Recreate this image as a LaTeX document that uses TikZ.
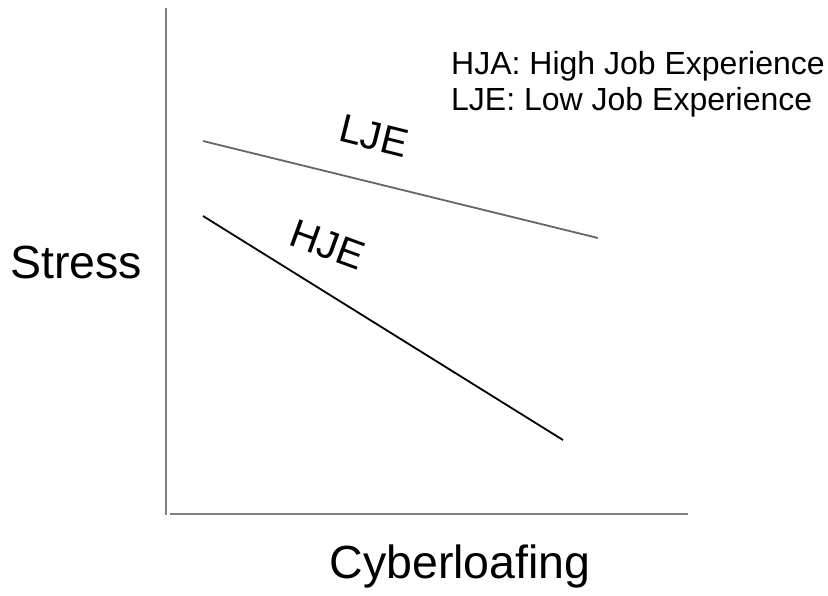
\documentclass[tikz,border=0pt]{standalone}
\usepackage{fontspec}
\setmainfont{Liberation Sans}
\begin{document}
\begin{tikzpicture}[x=1pt,y=-1pt,
  axis/.style={draw=black!50, line width=2pt},
  trend/.style={line width=1.8pt},
  lbl/.style={inner sep=0pt, font=\fontsize{40}{40}\selectfont},
  axlbl/.style={inner sep=0pt, font=\fontsize{46.5}{46.5}\selectfont},
  legend/.style={inner sep=0pt, anchor=west, font=\fontsize{32}{32}\selectfont}]
  \useasboundingbox (0,0) rectangle (828,595);
  % axes
  \coordinate (ytop) at (166,8);
  \coordinate (origin) at (166,515);
  \coordinate (xstart) at (170,514);
  \coordinate (xend) at (688,514);
  \draw[axis] (ytop) -- (origin);
  \draw[axis] (xstart) -- (xend);
  % trend lines
  \coordinate (lje1) at (203,141);
  \coordinate (lje2) at (598,238);
  \coordinate (hje1) at (203,216);
  \coordinate (hje2) at (563,440);
  \draw[trend, draw=black!60] (lje1) -- (lje2);
  \draw[trend, draw=black] (hje1) -- (hje2);
  % line labels
  \node[lbl, rotate=-14] (ljel) at (374,136) {LJE};
  \node[lbl, rotate=-20] (hjel) at (328,245) {HJE};
  % axis labels
  \node[axlbl] (ylab) at (76,262) {Stress};
  \node[axlbl] (xlab) at (460,566) {Cyberloafing};
  % legend
  \node[legend] (leg1) at (451,66) {HJA: High Job Experience};
  \node[legend] (leg2) at (451,102) {LJE: Low Job Experience};
\end{tikzpicture}
\end{document}
